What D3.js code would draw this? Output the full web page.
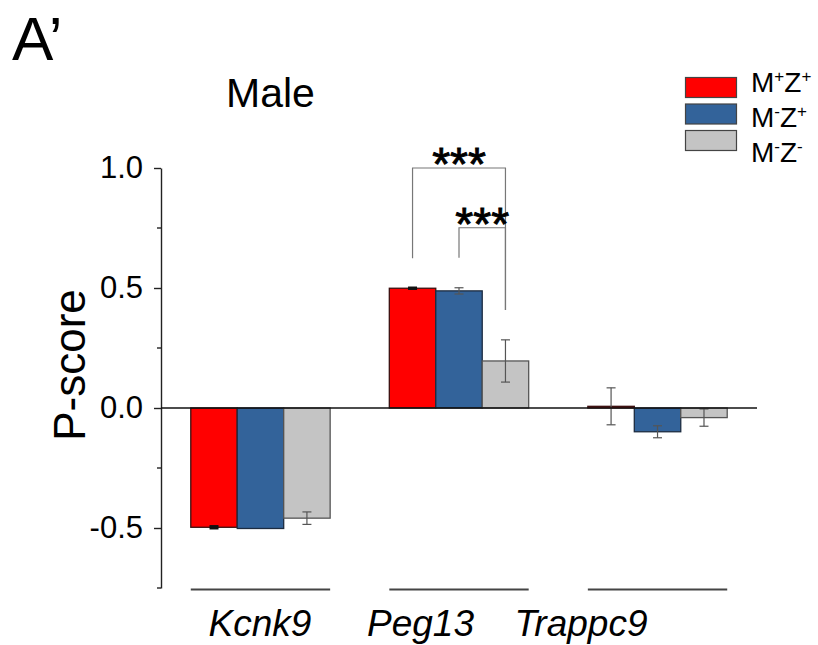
<!DOCTYPE html>
<html>
<head>
<meta charset="utf-8">
<script src="https://cdn.jsdelivr.net/npm/d3@7"></script>
<style>
  html, body { margin: 0; padding: 0; background: #fff; }
  svg { display: block; font-family: Arial, "Liberation Sans", sans-serif; }
</style>
</head>
<body>
<div id="chart"></div>
<script>
// Données (P-score, moyenne ± erreur)
const genes = ["Kcnk9", "Peg13", "Trappc9"]
const groups = ["M+Z+", "M-Z+", "M-Z-"]
const mpzp = [-0.497, 0.499, 0.007]
const mmzp = [-0.502, 0.488, -0.099]
const mmzm = [-0.459, 0.196, -0.040]
const mpzpErr = [0.004, 0.002, 0.077]
const mmzpErr = [0, 0.013, 0.025]
const mmzmErr = [0.026, 0.088, 0.036]
const yMajor = [-0.5, 0, 0.5, 1.0]
const yMinor = [-0.75, -0.25, 0.25, 0.75]
// crochets de significativité (niveaux en unités de P-score)
const sigGene = ["Peg13", "Peg13"]
const sigFrom = ["M+Z+", "M-Z+"]
const sigTo = ["M-Z-", "M-Z-"]
const sigTop = [1.0, 0.751]
const sigLeftEnd = [0.624, 0.626]
const sigRightEnd = [0.408, 0.408]
const sigLabel = ["***", "***"]

const W = 818, H = 645
const colors = { "M+Z+": "#ff0000", "M-Z+": "#33639a", "M-Z-": "#c4c4c4" }
const strokes = { "M+Z+": "#3a1010", "M-Z+": "#1d2c40", "M-Z-": "#555" }

const values = [mpzp, mmzp, mmzm]
const errs = [mpzpErr, mmzpErr, mmzmErr]
const rows = []
genes.forEach((g, gi) => groups.forEach((s, si) => {
  rows.push({ gene: g, group: s, v: values[si][gi], e: errs[si][gi] })
}))

const svg = d3.select("#chart").append("svg")
  .attr("width", W).attr("height", H)

const axisX = 161, axisRight = 757
const y = d3.scaleLinear().domain([-0.75, 1.0]).range([588, 168])
const x = d3.scaleBand().domain(genes).range([axisX, axisRight])
  .paddingInner(0.298).paddingOuter(0.15)
const xs = d3.scaleBand().domain(groups).range([0, x.bandwidth()])
const xLabel = d3.scalePoint().domain(genes).range([260, 581])

// --- Axe Y ---
const yAxis = svg.append("g")
  .attr("transform", `translate(${axisX},0)`)
  .call(d3.axisLeft(y).tickValues(yMajor).tickSize(7).tickSizeOuter(0)
    .tickPadding(11).tickFormat(d => d.toFixed(1)))
yAxis.select(".domain").attr("stroke", "#222").attr("stroke-width", 1.4)
yAxis.selectAll(".tick line").attr("stroke", "#222").attr("stroke-width", 1.4)
yAxis.selectAll(".tick text").attr("font-size", 31).attr("fill", "#000")
  .attr("font-family", "Arial, 'Liberation Sans', sans-serif")

svg.append("g").selectAll("line")
  .data(yMinor).join("line")
  .attr("x1", axisX - 4).attr("x2", axisX)
  .attr("y1", d => y(d)).attr("y2", d => y(d))
  .attr("stroke", "#222").attr("stroke-width", 1.4)

// --- Barres ---
const bars = svg.append("g")
bars.selectAll("rect")
  .data(rows).join("rect")
  .attr("x", d => x(d.gene) + xs(d.group))
  .attr("width", xs.bandwidth())
  .attr("y", d => Math.min(y(d.v), y(0)))
  .attr("height", d => Math.abs(y(d.v) - y(0)))
  .attr("fill", d => colors[d.group])
  .attr("stroke", d => strokes[d.group])
  .attr("stroke-width", 1.3)

// --- Barres d'erreur ---
const eb = svg.append("g").attr("stroke", "#555").attr("stroke-width", 1.2)
rows.filter(d => d.e > 0).forEach(d => {
  const cx = x(d.gene) + xs(d.group) + xs.bandwidth() / 2
  const tiny = d.e < 0.006
  const c = tiny ? "#111" : "#555"
  eb.append("line").attr("x1", cx).attr("x2", cx)
    .attr("y1", y(d.v + d.e)).attr("y2", y(d.v - d.e)).attr("stroke", c)
  ;[d.v + d.e, d.v - d.e].forEach(t => {
    eb.append("line").attr("x1", cx - 4.5).attr("x2", cx + 4.5)
      .attr("y1", y(t)).attr("y2", y(t)).attr("stroke", c)
      .attr("stroke-width", tiny ? 2.5 : 1.2)
  })
})

// --- Ligne zéro ---
svg.append("line")
  .attr("x1", axisX).attr("x2", axisRight)
  .attr("y1", y(0)).attr("y2", y(0))
  .attr("stroke", "#111").attr("stroke-width", 1.6)

// --- Soulignements par gène + labels ---
svg.append("g").selectAll("line")
  .data(genes).join("line")
  .attr("x1", d => x(d)).attr("x2", d => x(d) + x.bandwidth())
  .attr("y1", 589.5).attr("y2", 589.5)
  .attr("stroke", "#444").attr("stroke-width", 2)

svg.append("g").selectAll("text")
  .data(genes).join("text")
  .attr("x", d => xLabel(d)).attr("y", 636)
  .attr("text-anchor", "middle")
  .attr("font-size", 37).attr("font-style", "italic")
  .text(d => d)

// --- Crochets de significativité ---
const sg = svg.append("g")
sigGene.forEach((g, i) => {
  const xl = x(g) + xs(sigFrom[i]) + xs.bandwidth() / 2
  const xr = x(g) + xs(sigTo[i]) + xs.bandwidth() / 2
  sg.append("path")
    .attr("d", `M${xl},${y(sigLeftEnd[i])}V${y(sigTop[i])}H${xr}V${y(sigRightEnd[i])}`)
    .attr("fill", "none").attr("stroke", "#777").attr("stroke-width", 1.2)
  sg.append("text")
    .attr("x", (xl + xr) / 2).attr("y", y(sigTop[i]) + 12)
    .attr("text-anchor", "middle")
    .attr("font-size", 46)
    .attr("stroke", "#000").attr("stroke-width", 0.9)
    .text(sigLabel[i])
})

// --- Titres ---
svg.append("text").attr("x", 12).attr("y", 60)
  .attr("font-size", 62).text("A’")
svg.append("text").attr("x", 226).attr("y", 107)
  .attr("font-size", 41).text("Male")
svg.append("text")
  .attr("transform", `translate(85,365) rotate(-90)`)
  .attr("text-anchor", "middle")
  .attr("font-size", 44).text("P-score")

// --- Légende ---
const legTextY = [92, 127, 162]
const leg = svg.append("g")
groups.forEach((s, i) => {
  leg.append("rect")
    .attr("x", 685.5).attr("y", 77.5 + i * 26.5)
    .attr("width", 51).attr("height", 20)
    .attr("fill", colors[s]).attr("stroke", "#444").attr("stroke-width", 1.2)
  const t = leg.append("text").attr("x", 751).attr("y", legTextY[i])
    .attr("font-size", 28)
  const supM = s[1] === "+" ? "+" : "-"
  const supZ = s[3] === "+" ? "+" : "-"
  t.append("tspan").text("M")
  t.append("tspan").attr("font-size", 17).attr("dy", -10).text(supM)
  t.append("tspan").attr("dy", 10).text("Z")
  t.append("tspan").attr("font-size", 17).attr("dy", -10).text(supZ)
})
</script>
</body>
</html>
